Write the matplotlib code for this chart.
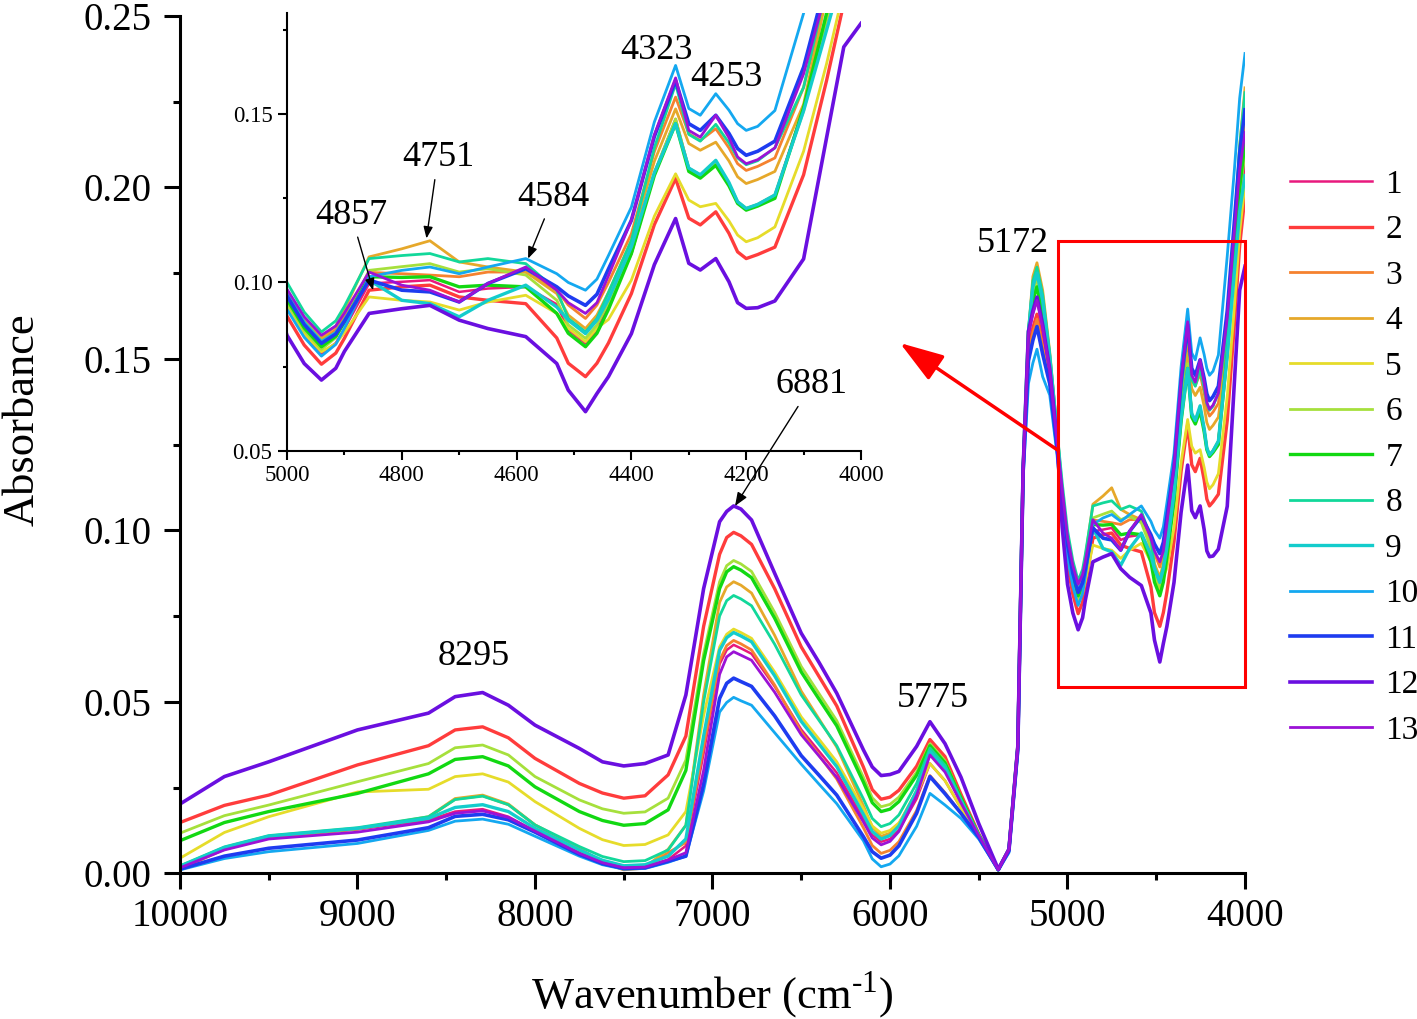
import matplotlib
matplotlib.use('Agg')
import matplotlib.pyplot as plt
from matplotlib.patches import Rectangle
from matplotlib.ticker import MultipleLocator, FormatStrFormatter

plt.rcParams['font.family'] = ['Liberation Serif', 'DejaVu Serif']
plt.rcParams['mathtext.fontset'] = 'custom'
plt.rcParams['mathtext.rm'] = 'Liberation Serif'

wavenumber = [10000, 9750, 9500, 9000, 8600, 8450, 8295, 8150, 8000, 7750, 7620, 7500, 7380, 7250,
              7150, 7050, 6960, 6920, 6881, 6840, 6780, 6650, 6500, 6400,
              6300, 6150, 6100, 6050, 6000, 5950, 5850, 5775, 5690, 5600,
              5500, 5390, 5330, 5280, 5250, 5220, 5195, 5172, 5140, 5100,
              5060, 5030, 5000,
              4970, 4940, 4915, 4900, 4857, 4800, 4751, 4700, 4650, 4584,
              4530, 4510, 4480, 4460, 4440, 4400, 4360, 4323, 4300, 4280,
              4253, 4230, 4215, 4200, 4180, 4150, 4100, 4060, 4030, 4000]

labels = ['1', '2', '3', '4', '5', '6', '7', '8', '9', '10', '11', '12', '13']
colors = ['#E8197D', '#FF3C3C', '#F5822F', '#E6A82A', '#E6DC2A', '#A6E03C', '#12D812',
          '#12D89A', '#14CCCC', '#14A8F0', '#1E3CF0', '#6A0FE0', '#9B12D6']
widths = [1.8, 2.4, 2.0, 2.0, 2.0, 2.0, 2.4, 2.0, 2.4, 2.0, 2.6, 2.6, 2.0]

s1 = [.0018, .0073, .0106, .0128, .0155, .0180, .0187, .0165, .0123, .0060, .0031, .0015, .0018, .0040,
      .0080, .0350, .0610, .0651, .0666, .0656, .0640, .0545, .0419, .0356,
      .0293, .0160, .0112, .0092, .0100, .0126, .0217, .0320, .0270, .0190,
      .0110, .0010, .0070, .0370, .1180, .1528, .1588, .1628, .1548, .1444,
      .1254, .1070, .0930,
      .0845, .0789, .0820, .0862, .0997, .1002, .1007, .0972, .0982, .0987,
      .0935, .0859, .0819, .0859, .0930, .1086, .1326, .1486, .1340, .1320,
      .1358, .1294, .1240, .1220, .1232, .1260, .1520, .1780, .1960, .2066]
s2 = [.0148, .0198, .0228, .0316, .0372, .0418, .0427, .0395, .0335, .0262, .0234, .0219, .0226, .0287,
      .0400, .0720, .0930, .0979, .0994, .0984, .0959, .0830, .0660, .0574,
      .0488, .0310, .0244, .0216, .0222, .0242, .0312, .0390, .0340, .0230,
      .0115, .0012, .0070, .0370, .1180, .1530, .1590, .1630, .1550, .1445,
      .1255, .1040, .0900,
      .0814, .0757, .0790, .0834, .0977, .0987, .0992, .0957, .0947, .0937,
      .0835, .0760, .0720, .0760, .0820, .0967, .1172, .1309, .1191, .1171,
      .1210, .1146, .1091, .1071, .1083, .1105, .1320, .1600, .1830, .1975]
s3 = [.0012, .0070, .0105, .0129, .0163, .0216, .0226, .0200, .0141, .0072, .0032, .0010, .0015, .0060,
      .0090, .0370, .0620, .0664, .0679, .0669, .0651, .0549, .0412, .0344,
      .0275, .0133, .0081, .0058, .0067, .0092, .0183, .0285, .0235, .0175,
      .0105, .0010, .0070, .0370, .1180, .1516, .1576, .1616, .1536, .1438,
      .1251, .1110, .0970,
      .0885, .0829, .0859, .0899, .1030, .1026, .1022, .1017, .1031, .1031,
      .0977, .0933, .0893, .0933, .1000, .1145, .1389, .1551, .1442, .1422,
      .1457, .1400, .1353, .1333, .1345, .1370, .1580, .1850, .2060, .2200]
s4 = [.0015, .0071, .0106, .0130, .0165, .0218, .0228, .0202, .0141, .0072, .0033, .0012, .0018, .0070,
      .0140, .0520, .0790, .0835, .0850, .0840, .0817, .0694, .0531, .0450,
      .0368, .0197, .0135, .0108, .0117, .0144, .0241, .0350, .0300, .0210,
      .0110, .0010, .0070, .0370, .1180, .1580, .1740, .1780, .1700, .1520,
      .1300, .1110, .0970,
      .0888, .0834, .0870, .0919, .1076, .1100, .1124, .1061, .1046, .1031,
      .0967, .0903, .0863, .0903, .0970, .1125, .1360, .1516, .1413, .1393,
      .1417, .1361, .1314, .1294, .1306, .1330, .1530, .1850, .2120, .2290]
s5 = [.0044, .0119, .0165, .0237, .0245, .0282, .0290, .0266, .0209, .0131, .0098, .0081, .0084, .0112,
      .0180, .0460, .0660, .0697, .0712, .0702, .0685, .0587, .0456, .0391,
      .0325, .0188, .0138, .0117, .0125, .0147, .0229, .0320, .0270, .0190,
      .0110, .0010, .0070, .0370, .1180, .1580, .1695, .1735, .1655, .1498,
      .1286, .1070, .0930,
      .0848, .0794, .0818, .0851, .0957, .0947, .0942, .0918, .0942, .0962,
      .0908, .0864, .0824, .0864, .0890, .1007, .1197, .1323, .1245, .1225,
      .1235, .1183, .1141, .1121, .1133, .1165, .1390, .1650, .1870, .2008]
s6 = [.0117, .0168, .0199, .0267, .0320, .0366, .0374, .0345, .0282, .0214, .0188, .0175, .0179, .0219,
      .0330, .0640, .0850, .0897, .0912, .0902, .0880, .0761, .0603, .0524,
      .0445, .0280, .0220, .0194, .0201, .0222, .0295, .0378, .0328, .0220,
      .0112, .0010, .0070, .0370, .1180, .1580, .1695, .1735, .1655, .1498,
      .1286, .1080, .0940,
      .0857, .0801, .0836, .0883, .1036, .1047, .1056, .1031, .1041, .1022,
      .0947, .0874, .0834, .0874, .0940, .1086, .1326, .1486, .1338, .1318,
      .1358, .1294, .1240, .1220, .1232, .1260, .1510, .1780, .1980, .2100]
s7 = [.0095, .0148, .0180, .0233, .0290, .0332, .0340, .0313, .0252, .0180, .0154, .0140, .0145, .0185,
      .0300, .0620, .0830, .0879, .0894, .0884, .0862, .0744, .0587, .0508,
      .0430, .0266, .0206, .0180, .0187, .0209, .0286, .0372, .0322, .0220,
      .0112, .0010, .0070, .0370, .1180, .1580, .1670, .1710, .1630, .1485,
      .1279, .1090, .0950,
      .0865, .0809, .0840, .0882, .1017, .1015, .1017, .0987, .0992, .0987,
      .0908, .0849, .0809, .0849, .0920, .1086, .1318, .1472, .1330, .1310,
      .1348, .1287, .1235, .1215, .1227, .1250, .1520, .1800, .2000, .2130]
s8 = [.0022, .0077, .0110, .0133, .0165, .0215, .0225, .0200, .0141, .0078, .0049, .0034, .0037, .0068,
      .0140, .0500, .0750, .0795, .0810, .0800, .0780, .0668, .0520, .0446,
      .0372, .0217, .0160, .0136, .0145, .0170, .0262, .0365, .0315, .0215,
      .0110, .0010, .0070, .0370, .1180, .1580, .1727, .1767, .1687, .1514,
      .1296, .1140, .1000,
      .0912, .0853, .0886, .0929, .1071, .1080, .1086, .1061, .1071, .1056,
      .0977, .0893, .0853, .0893, .0970, .1125, .1400, .1590, .1440, .1420,
      .1470, .1415, .1370, .1350, .1362, .1400, .1580, .1880, .2120, .2276]
s9 = [.0020, .0075, .0108, .0131, .0160, .0192, .0200, .0180, .0131, .0068, .0038, .0022, .0025, .0050,
      .0100, .0400, .0650, .0687, .0702, .0692, .0675, .0576, .0443, .0377,
      .0311, .0172, .0122, .0100, .0110, .0138, .0240, .0355, .0305, .0210,
      .0110, .0010, .0070, .0370, .1180, .1580, .1710, .1750, .1670, .1505,
      .1291, .1110, .0970,
      .0882, .0824, .0851, .0888, .1007, .0947, .0937, .0898, .0947, .0992,
      .0927, .0888, .0848, .0888, .0950, .1106, .1326, .1472, .1340, .1320,
      .1363, .1297, .1240, .1220, .1232, .1260, .1510, .1750, .1930, .2034]
s10 = [.0010, .0043, .0063, .0087, .0125, .0152, .0158, .0143, .0108, .0050, .0025, .0012, .0014, .0032,
       .0050, .0240, .0470, .0498, .0513, .0503, .0490, .0410, .0318, .0260,
       .0203, .0095, .0042, .0019, .0027, .0051, .0137, .0233, .0199, .0160,
       .0100, .0010, .0060, .0350, .1150, .1428, .1488, .1528, .1448, .1394,
       .1225, .1060, .0920,
       .0837, .0781, .0816, .0864, .1017, .1036, .1046, .1026, .1046, .1071,
       .1026, .1000, .0977, .1010, .1080, .1224, .1477, .1645, .1517, .1497,
       .1561, .1512, .1472, .1452, .1464, .1511, .1800, .2050, .2260, .2390]
s11 = [.0012, .0050, .0073, .0097, .0133, .0166, .0172, .0156, .0120, .0055, .0028, .0014, .0016, .0035,
       .0050, .0260, .0510, .0554, .0569, .0559, .0545, .0459, .0343, .0286,
       .0228, .0107, .0063, .0044, .0053, .0080, .0175, .0282, .0232, .0175,
       .0105, .0010, .0065, .0360, .1170, .1494, .1554, .1594, .1514, .1427,
       .1245, .1100, .0960,
       .0875, .0819, .0847, .0885, .1007, .0977, .0972, .0942, .0997, .1041,
       .0987, .0960, .0932, .0965, .1040, .1185, .1434, .1600, .1472, .1452,
       .1497, .1443, .1398, .1378, .1390, .1420, .1640, .1900, .2100, .2226]
s12 = [.0202, .0282, .0325, .0418, .0467, .0515, .0527, .0490, .0432, .0364, .0325, .0313, .0320, .0345,
       .0520, .0830, .1025, .1055, .1071, .1062, .1030, .0875, .0700, .0615,
       .0525, .0360, .0310, .0285, .0288, .0297, .0370, .0442, .0378, .0280,
       .0145, .0012, .0070, .0370, .1180, .1580, .1640, .1680, .1600, .1470,
       .1270, .1010, .0843,
       .0759, .0710, .0745, .0795, .0908, .0922, .0932, .0888, .0863, .0839,
       .0759, .0680, .0616, .0670, .0720, .0848, .1053, .1190, .1057, .1037,
       .1071, .1002, .0940, .0923, .0925, .0945, .1070, .1430, .1700, .1770]
s13 = [.0016, .0068, .0100, .0120, .0150, .0175, .0182, .0163, .0123, .0058, .0031, .0016, .0018, .0039,
       .0060, .0300, .0580, .0631, .0646, .0636, .0621, .0528, .0404, .0342,
       .0280, .0150, .0103, .0083, .0093, .0122, .0227, .0345, .0295, .0205,
       .0110, .0010, .0070, .0370, .1180, .1570, .1630, .1670, .1590, .1465,
       .1267, .1120, .0980,
       .0898, .0843, .0871, .0909, .1031, .0992, .0977, .0942, .0997, .1046,
       .0977, .0940, .0908, .0940, .1020, .1185, .1439, .1608, .1452, .1432,
       .1497, .1430, .1373, .1353, .1365, .1400, .1620, .1870, .2050, .2160]

spectra = [s1, s2, s3, s4, s5, s6, s7, s8, s9, s10, s11, s12, s13]

W, H = 1417, 1019
fig = plt.figure(figsize=(W / 100, H / 100), dpi=100)

# main axes
ax = fig.add_axes([180 / W, 1 - 873.3 / H, 1065 / W, 857.5 / H])
for y, c, lw, lab in zip(spectra, colors, widths, labels):
    ax.plot(wavenumber, y, color=c, lw=lw, label=lab, solid_joinstyle='round')

ax.set_xlim(10000, 4000)
ax.set_ylim(0, 0.25)
ax.xaxis.set_major_locator(MultipleLocator(1000))
ax.xaxis.set_minor_locator(MultipleLocator(500))
ax.yaxis.set_major_locator(MultipleLocator(0.05))
ax.yaxis.set_minor_locator(MultipleLocator(0.025))
ax.yaxis.set_major_formatter(FormatStrFormatter('%.2f'))
for s in ['top', 'right']:
    ax.spines[s].set_visible(False)
for s in ['left', 'bottom']:
    ax.spines[s].set_linewidth(2.2)
ax.tick_params(which='major', direction='out', length=11.5, width=2.2, labelsize=28)
ax.tick_params(which='minor', direction='out', length=5, width=2.2)
ax.tick_params(axis='x', pad=6)
ax.tick_params(axis='y', pad=9)

ax.set_xlabel('Wavenumber (cm$^{\\mathregular{\u20101}}$)', fontsize=32)
ax.set_ylabel('Absorbance', fontsize=32)
ax.xaxis.set_label_coords(0.5, -0.112)
ax.yaxis.set_label_coords(-0.1286, 0.5286)

# peak labels
ax.text(8345, 0.0632, '8295', ha='center', va='center', fontsize=26)
ax.text(5756, 0.0510, '5775', ha='center', va='center', fontsize=26)
ax.text(5305, 0.1837, '5172', ha='center', va='center', fontsize=26)
ax.annotate('6881', xy=(6873, 0.1071), xytext=(6441, 0.1424), ha='center', va='center',
            fontsize=26,
            arrowprops=dict(arrowstyle='-|>,head_length=0.5,head_width=0.2', color='black',
                            lw=1, mutation_scale=16, shrinkB=0))

# zoom box and red arrow
ax.add_patch(Rectangle((4000, 0.0543), 1053, 0.1300, fill=False, edgecolor='#FF0000',
                       lw=2.2, clip_on=False, zorder=5))
ax.annotate('', xy=(5944, 0.1546), xytext=(5053, 0.1233),
            arrowprops=dict(arrowstyle='-|>,head_length=0.9,head_width=0.3', color='#FF0000',
                            lw=2.5, mutation_scale=30, shrinkA=0, shrinkB=0))

leg = ax.legend(loc='center left', bbox_to_anchor=(1290 / W, 1 - 457.5 / H),
                bbox_transform=fig.transFigure, frameon=False, fontsize=24,
                handlelength=2.46, handletextpad=0.4, labelspacing=0.45,
                borderpad=0, borderaxespad=0)

# inset
ins = fig.add_axes([287 / W, 1 - 450.7 / H, 574 / W, 437.4 / H])
ins.patch.set_alpha(0)
for y, c, lw in zip(spectra, colors, widths):
    ins.plot(wavenumber, y, color=c, lw=lw, solid_joinstyle='round')
ins.set_xlim(5000, 4000)
ins.set_ylim(0.05, 0.18)
ins.xaxis.set_major_locator(MultipleLocator(200))
ins.xaxis.set_minor_locator(MultipleLocator(100))
ins.yaxis.set_major_locator(MultipleLocator(0.05))
ins.yaxis.set_minor_locator(MultipleLocator(0.025))
ins.yaxis.set_major_formatter(FormatStrFormatter('%.2f'))
for s in ['top', 'right']:
    ins.spines[s].set_visible(False)
for s in ['left', 'bottom']:
    ins.spines[s].set_linewidth(1.5)
ins.tick_params(which='major', direction='out', length=6.5, width=1.5, labelsize=16.5, pad=4)
ins.tick_params(which='minor', direction='out', length=3, width=1.5)

arrow_small = dict(arrowstyle='-|>,head_length=0.5,head_width=0.2', color='black', lw=1,
                   mutation_scale=14, shrinkB=0)
ins.annotate('4857', xy=(4850, 0.0977), xytext=(4888, 0.1200), ha='center', va='center',
             fontsize=26, arrowprops=arrow_small)
ins.annotate('4751', xy=(4757, 0.1131), xytext=(4737, 0.1371), ha='center', va='center',
             fontsize=26, arrowprops=arrow_small)
ins.annotate('4584', xy=(4580, 0.1071), xytext=(4536, 0.1254), ha='center', va='center',
             fontsize=26, arrowprops=arrow_small)
ins.text(4356, 0.1690, '4323', ha='center', va='center', fontsize=26)
ins.text(4234, 0.1610, '4253', ha='center', va='center', fontsize=26)

fig.savefig('out.png', dpi=100)
